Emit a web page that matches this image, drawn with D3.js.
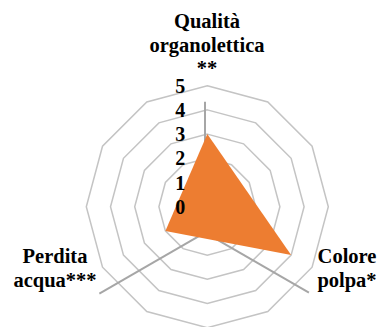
<!DOCTYPE html>
<html>
<head>
<meta charset="utf-8">
<script src="https://cdn.jsdelivr.net/npm/d3@7"></script>
<style>
  html, body { margin: 0; padding: 0; background: #fff; }
  svg { display: block; }
</style>
</head>
<body>
<svg width="379" height="327"></svg>
<script>
// data
const categories = ["Qualità organolettica **", "Colore polpa*", "Perdita acqua***"];
const labelLines = [["Qualità", "organolettica", "**"], ["Colore", "polpa*"], ["Perdita", "acqua***"]];
const values = [3, 4, 2];
const ticks = [0, 1, 2, 3, 4, 5];

const svg = d3.select("svg");
const cx = 207.3;
const cy = 206.7;

// radius scale
const r = d3.scaleLinear().domain([0, 5]).range([0, 121]);

// angle for each category (top, then clockwise)
const angle = d3.scaleLinear().domain([0, categories.length]).range([-Math.PI / 2, 1.5 * Math.PI]);

// grid rings (12 sides)
const sides = d3.range(12).map(k => -Math.PI / 2 + k * Math.PI / 6);
ticks.filter(t => t > 0).forEach(function(t) {
    const pts = sides.map(a => [cx + r(t) * Math.cos(a), cy + r(t) * Math.sin(a)]);
    svg.append("polygon")
        .attr("points", pts.map(p => p.join(",")).join(" "))
        .attr("fill", "none")
        .attr("stroke", "#c4c4c4")
        .attr("stroke-width", 1.5);
});

// spokes (drawn a bit below the grid centre, like the original)
const spokeX = cx - 2.3;
const spokeY = cy + 26;
const spokeLen = [131, 120, 122];
svg.selectAll(".spoke")
    .data(categories)
    .enter()
    .append("line")
    .attr("class", "spoke")
    .attr("x1", spokeX)
    .attr("y1", spokeY)
    .attr("x2", (d, i) => spokeX + spokeLen[i] * Math.cos(angle(i)))
    .attr("y2", (d, i) => spokeY + spokeLen[i] * Math.sin(angle(i)))
    .attr("stroke", "#a6a6a6")
    .attr("stroke-width", 2);

// data polygon
const line = d3.lineRadial()
    .angle((d, i) => angle(i) + Math.PI / 2)
    .radius(d => r(d))
    .curve(d3.curveLinearClosed);

svg.append("path")
    .attr("transform", "translate(" + cx + "," + cy + ")")
    .attr("d", line(values))
    .attr("fill", "#ed7d31");

// tick labels
svg.selectAll(".tick")
    .data(ticks)
    .enter()
    .append("text")
    .attr("class", "tick")
    .attr("x", cx - 27)
    .attr("y", d => cy - r(d))
    .attr("dy", "0.35em")
    .attr("text-anchor", "middle")
    .attr("font-family", "Liberation Serif, Times New Roman, serif")
    .attr("font-weight", "bold")
    .attr("font-size", 20)
    .text(d => d);

// category labels
const labelPos = [[207, 28], [347, 263], [55, 263]];
const lineH = 24;
labelLines.forEach(function(lines, i) {
    const t = svg.append("text")
        .attr("text-anchor", "middle")
        .attr("font-family", "Liberation Serif, Times New Roman, serif")
        .attr("font-weight", "bold")
        .attr("font-size", 20.5);
    lines.forEach(function(s, j) {
        t.append("tspan")
            .attr("x", labelPos[i][0])
            .attr("y", labelPos[i][1] + j * lineH - (i === 0 ? j * 0.5 : 0))
            .text(s);
    });
});
</script>
</body>
</html>
